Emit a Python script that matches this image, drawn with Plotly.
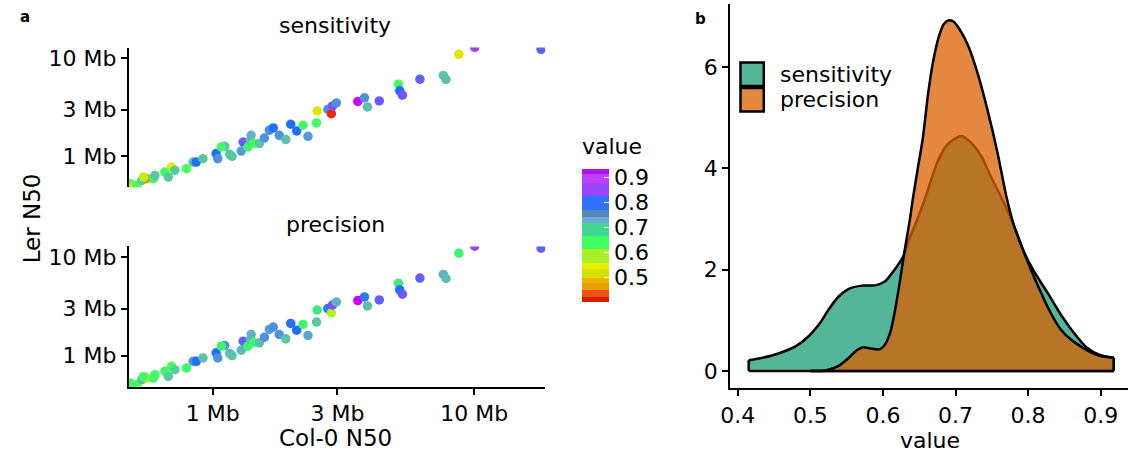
import plotly.graph_objects as go

# ---------------- data ----------------
col0_n50_mb = [0.483, 0.491, 0.512, 0.535, 0.559, 0.543, 0.593, 0.601, 0.656, 0.676,
               0.696, 0.716, 0.793, 0.841, 0.865, 0.917, 1.030, 1.045, 1.111, 1.079,
               1.185, 1.161, 1.285, 1.307, 1.362, 1.394, 1.402, 1.435, 1.508, 1.576,
               1.646, 1.704, 1.796, 1.903, 1.988, 2.095, 2.215, 2.314, 2.494, 2.509,
               2.755, 2.843, 2.873, 2.970, 3.589, 3.805, 3.906, 4.337, 5.133, 5.192,
               5.316, 6.203, 7.623, 7.804, 8.743, 10.05, 18.04]
ler_n50_mb = [0.526, 0.485, 0.505, 0.568, 0.591, 0.614, 0.591, 0.639, 0.691, 0.614,
              0.777, 0.719, 0.749, 0.874, 0.874, 0.947, 1.066, 0.947, 1.266, 1.245,
              1.000, 1.048, 1.133, 1.401, 1.245, 1.458, 1.640, 1.359, 1.349, 1.539,
              1.845, 1.949, 1.640, 1.482, 2.126, 1.815, 2.076, 1.602, 2.192, 2.909,
              3.006, 2.723, 3.273, 3.512, 3.630, 3.952, 3.196, 3.681, 5.457, 4.660,
              4.211, 6.140, 6.699, 6.096, 10.99, 12.96, 12.36]
sensitivity = [0.63, 0.52, 0.62, 0.69, 0.46, 0.56, 0.64, 0.69, 0.63, 0.69,
               0.53, 0.68, 0.62, 0.69, 0.79, 0.69, 0.79, 0.75, 0.70, 0.63,
               0.69, 0.69, 0.74, 0.83, 0.64, 0.70, 0.72, 0.62, 0.69, 0.75,
               0.75, 0.79, 0.75, 0.70, 0.79, 0.79, 0.63, 0.74, 0.63, 0.52,
               0.75, 0.415, 0.85, 0.75, 0.92, 0.75, 0.70, 0.83, 0.63, 0.79,
               0.84, 0.82, 0.69, 0.70, 0.52, 0.88, 0.82]
precision = [0.63, 0.62, 0.63, 0.70, 0.58, 0.63, 0.64, 0.63, 0.64, 0.69,
             0.62, 0.68, 0.63, 0.74, 0.79, 0.70, 0.79, 0.75, 0.75, 0.64,
             0.69, 0.70, 0.71, 0.82, 0.64, 0.70, 0.72, 0.64, 0.70, 0.75,
             0.74, 0.75, 0.75, 0.69, 0.79, 0.79, 0.64, 0.73, 0.69, 0.66,
             0.78, 0.57, 0.86, 0.72, 0.92, 0.78, 0.70, 0.82, 0.66, 0.79,
             0.83, 0.82, 0.72, 0.70, 0.64, 0.88, 0.82]

sens_density_x = [0.415, 0.434, 0.457, 0.480, 0.498, 0.512, 0.525, 0.539, 0.553, 0.571,
                  0.589, 0.603, 0.616, 0.628, 0.635, 0.647, 0.659, 0.676, 0.690, 0.708,
                  0.722, 0.736, 0.749, 0.767, 0.781, 0.794, 0.808, 0.827, 0.845, 0.863,
                  0.881, 0.900, 0.918]
sens_density_y = [0.21, 0.26, 0.35, 0.49, 0.69, 0.92, 1.21, 1.47, 1.62, 1.685,
                  1.69, 1.77, 2.0, 2.26, 2.56, 2.98, 3.45, 4.16, 4.49, 4.64,
                  4.5, 4.23, 3.83, 3.31, 2.85, 2.36, 1.97, 1.54, 1.115, 0.755,
                  0.46, 0.31, 0.26]
prec_density_x = [0.500, 0.521, 0.539, 0.553, 0.564, 0.573, 0.584, 0.596, 0.603, 0.610,
                  0.616, 0.623, 0.630, 0.637, 0.641, 0.648, 0.655, 0.662, 0.669, 0.677,
                  0.684, 0.690, 0.697, 0.704, 0.718, 0.731, 0.745, 0.758, 0.770, 0.781,
                  0.793, 0.804, 0.818, 0.831, 0.845, 0.859, 0.872, 0.886, 0.900, 0.918]
prec_density_y = [0.0, 0.01, 0.1, 0.26, 0.41, 0.47, 0.44, 0.43, 0.525, 0.755,
                  1.15, 1.74, 2.39, 2.98, 3.38, 4.0, 4.6, 5.45, 6.1, 6.6,
                  6.85, 6.92, 6.9, 6.78, 6.4, 5.85, 5.1, 4.3, 3.45, 2.85,
                  2.39, 2.0, 1.54, 1.15, 0.82, 0.62, 0.49, 0.374, 0.295, 0.263]

n50_tick_vals = [1, 3, 10]
n50_tick_text = ["1 Mb", "3 Mb", "10 Mb"]
value_ticks = [0.4, 0.5, 0.6, 0.7, 0.8, 0.9]
density_ticks = [0, 2, 4, 6]
colorbar_ticks = [0.5, 0.6, 0.7, 0.8, 0.9]
series_names = ["sensitivity", "precision"]

# ---------------- styling ----------------
W, H = 1129, 454
FONT = "DejaVu Sans, Liberation Sans, Arial, sans-serif"
CMIN, CMAX = 0.40, 0.932


def fx(p):
    return p / W


def fy(p):
    return 1 - p / H


point_anchors = [(0.40, "#ee0c00"), (0.435, "#f05010"), (0.465, "#f0a000"),
                 (0.50, "#d8e000"), (0.54, "#e0f000"), (0.575, "#a8f028"),
                 (0.625, "#40ff60"), (0.665, "#40e488"), (0.69, "#58c8a0"),
                 (0.72, "#60b0c8"), (0.75, "#5090e0"), (0.79, "#2070ff"),
                 (0.82, "#6060ff"), (0.85, "#8050ff"), (0.88, "#a040f0"),
                 (0.92, "#d000ff"), (0.932, "#d000ff")]
point_scale = [[(v - CMIN) / (CMAX - CMIN), c] for v, c in point_anchors]

band_edges = [0.40, 0.42, 0.449, 0.476, 0.496, 0.53, 0.557, 0.611, 0.665, 0.714,
              0.74, 0.768, 0.823, 0.876, 0.91, 0.932]
band_colors = ["#dd1c00", "#f05010", "#e8a000", "#f0b400", "#d8e000", "#e8f000",
               "#a8f028", "#40ff60", "#40d890", "#68a8d8", "#5088b8", "#3070ff",
               "#9848f8", "#c040f8", "#b010e8"]
band_scale = []
for i, c in enumerate(band_colors):
    a = (band_edges[i] - CMIN) / (CMAX - CMIN)
    b = (band_edges[i + 1] - CMIN) / (CMAX - CMIN)
    band_scale.append([max(0, min(1, a)), c])
    band_scale.append([max(0, min(1, b)), c])

fig = go.Figure()

for vals, xa, ya in [(sensitivity, "x", "y"), (precision, "x2", "y2")]:
    fig.add_trace(go.Scatter(
        x=col0_n50_mb, y=ler_n50_mb, mode="markers", xaxis=xa, yaxis=ya,
        marker=dict(size=9.5, color=vals, colorscale=point_scale, cmin=CMIN,
                    cmax=CMAX, showscale=False, line=dict(width=0)),
        showlegend=False, hoverinfo="skip"))

# colour bar (legend of the colour scale); its title is an annotation below
CB_TOP, CB_BOTTOM = 169, 302
fig.add_trace(go.Scatter(
    x=[None, None], y=[None, None], mode="markers", xaxis="x", yaxis="y",
    marker=dict(color=[CMIN, CMAX], colorscale=band_scale, cmin=CMIN, cmax=CMAX,
                showscale=True,
                colorbar=dict(x=fx(577), xanchor="left", y=fy(CB_BOTTOM),
                              yanchor="bottom", len=(CB_BOTTOM - CB_TOP) / H,
                              lenmode="fraction", ypad=0, xpad=0,
                              thickness=27, outlinewidth=0,
                              tickvals=colorbar_ticks,
                              ticktext=[str(v) for v in colorbar_ticks],
                              ticks="inside", ticklen=5, tickcolor="white",
                              tickwidth=1.5,
                              tickfont=dict(family=FONT, size=22, color="black"))),
    showlegend=False, hoverinfo="skip"))

fills = ["rgba(27,158,119,0.75)", "rgba(217,95,2,0.75)"]
for (dx, dy), fc in zip([(sens_density_x, sens_density_y),
                         (prec_density_x, prec_density_y)], fills):
    fig.add_trace(go.Scatter(
        x=dx, y=dy, mode="lines", xaxis="x3", yaxis="y3", fill="tozeroy",
        fillcolor=fc, line=dict(color="black", width=2.5, shape="spline",
                                smoothing=0.7),
        showlegend=False, hoverinfo="skip"))
    fig.add_trace(go.Scatter(
        x=[dx[0], dx[0], None, dx[-1], dx[-1], None, dx[0], dx[-1]],
        y=[0, dy[0], None, dy[-1], 0, None, 0, 0],
        mode="lines", xaxis="x3", yaxis="y3",
        line=dict(color="black", width=2.5), showlegend=False, hoverinfo="skip"))

axis_common = dict(showgrid=False, zeroline=False, linecolor="black", linewidth=2,
                   tickcolor="black", tickwidth=2, ticklen=6)
left_dom = [fx(120), fx(540)]
xr = [-0.3207, 1.272]
yr = [-0.316, 1.11]
tf = dict(family=FONT, size=22, color="black")

fig.update_layout(
    width=W, height=H, autosize=False, margin=dict(l=0, r=0, t=0, b=0),
    paper_bgcolor="white", plot_bgcolor="rgba(0,0,0,0)",
    font=dict(family=FONT, color="black"),
    xaxis=dict(domain=left_dom, anchor="y", type="log", range=xr,
               showticklabels=False, ticks="", showline=False, showgrid=False,
               zeroline=False),
    yaxis=dict(domain=[fy(186.7), fy(46.7)], anchor="x", type="log", range=yr,
               tickvals=n50_tick_vals, ticktext=n50_tick_text, ticks="outside",
               showline=True, tickfont=tf, **axis_common),
    xaxis2=dict(domain=left_dom, anchor="y2", type="log", range=xr,
                tickvals=n50_tick_vals, ticktext=n50_tick_text, ticks="outside",
                showline=True, tickfont=tf, **axis_common),
    yaxis2=dict(domain=[fy(386.5), fy(246)], anchor="x2", type="log", range=yr,
                tickvals=n50_tick_vals, ticktext=n50_tick_text, ticks="outside",
                showline=True, tickfont=tf, **axis_common),
    xaxis3=dict(domain=[fx(726.7), fx(1128.3)], anchor="y3", range=[0.3896, 0.9381],
                tickvals=value_ticks, ticktext=[str(v) for v in value_ticks],
                ticks="outside", showline=True, tickfont=tf, **axis_common),
    yaxis3=dict(domain=[fy(388.3), fy(3)], anchor="x3", range=[-0.345, 7.245],
                tickvals=density_ticks, ticktext=[str(v) for v in density_ticks],
                ticks="outside", showline=True, tickfont=tf, **axis_common),
)

ann = []


def add_text(text, x, y, size, bold=False, angle=0, xanchor="center"):
    ann.append(dict(text=f"<b>{text}</b>" if bold else text, x=fx(x), y=fy(y),
                    xref="paper", yref="paper", showarrow=False, xanchor=xanchor,
                    yanchor="middle", textangle=angle,
                    font=dict(family=FONT, size=size, color="black")))


add_text("a", 15, 16, 15, bold=True)
add_text("b", 697, 18, 15, bold=True)
add_text(series_names[0], 328, 25, 22)
add_text(series_names[1], 328, 224, 22)
add_text("Ler N50", 22, 218, 23, angle=-90)
add_text("Col-0 N50", 328, 438, 23)
add_text("value", 928, 440, 22)
add_text("value", 575, 146, 22, xanchor="left")

# legend of the density panel
shapes = []
legend_fill = ["#54B699", "#E38741"]
for i, (name, col) in enumerate(zip(series_names, legend_fill)):
    top = 61.7 + i * 25.6
    shapes.append(dict(type="rect", xref="paper", yref="paper",
                       x0=fx(737), x1=fx(760.5), y0=fy(top + 23.4), y1=fy(top),
                       fillcolor=col, line=dict(color="black", width=2.5)))
    add_text(name, 775, top + 11.7, 22, xanchor="left")

fig.update_layout(annotations=ann, shapes=shapes)
fig.write_html("out.html",
               config={"displayModeBar": False, "staticPlot": True},
               post_script="document.body.style.margin='0px';"
                           "document.body.style.overflow='hidden';")
